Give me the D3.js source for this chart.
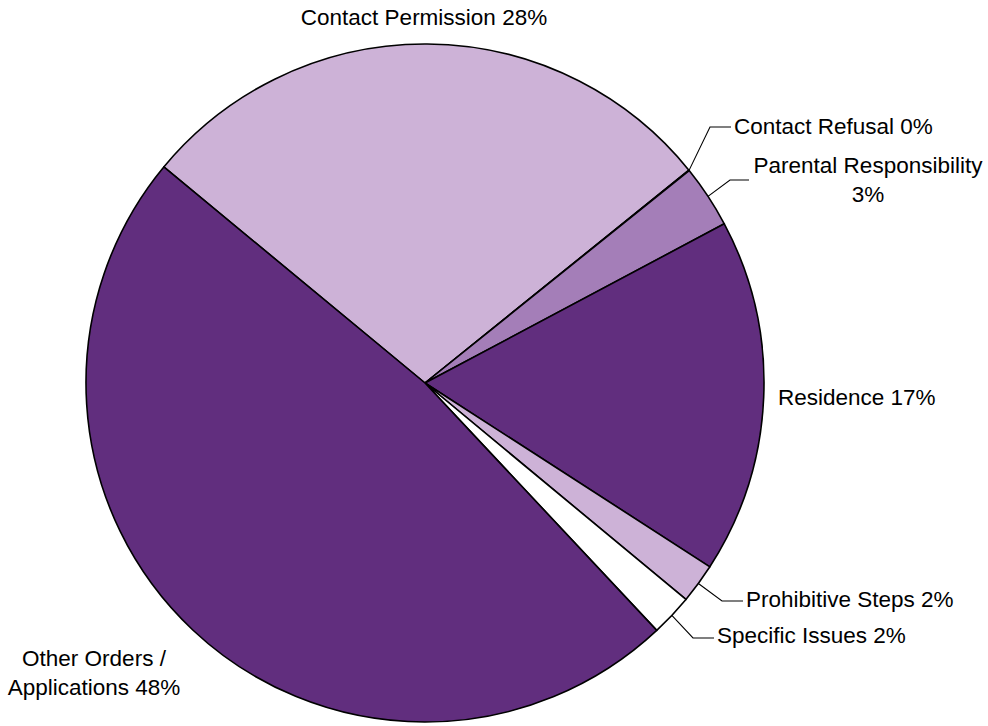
<!DOCTYPE html>
<html>
<head>
<meta charset="utf-8">
<script src="https://cdn.jsdelivr.net/npm/d3@7"></script>
<style>
  html, body { margin: 0; padding: 0; background: #fff; }
  svg { display: block; }
  text { font-family: "Liberation Sans", Arial, sans-serif; font-size: 22.5px; fill: #000; }
</style>
</head>
<body>
<svg id="chart" width="988" height="726"></svg>
<script>
// Share of applications by order type (percent)
const categories = [
  "Contact Permission",
  "Contact Refusal",
  "Parental Responsibility",
  "Residence",
  "Prohibitive Steps",
  "Specific Issues",
  "Other Orders / Applications"
];
const shares = [28.2, 0.02, 3.0, 16.9, 1.9, 2.0, 47.98];
const sliceColors = ["#CDB2D7", "#CDB2D7", "#A47EB8", "#612E7E", "#CDB2D7", "#FFFFFF", "#612E7E"];

// Label placement: lines of text, anchor point, alignment, optional elbow leader
const labelLayout = [
  { lines: ["Contact Permission {p}"], x: 424, y: 25, anchor: "middle" },
  { lines: ["Contact Refusal {p}"], x: 734, y: 134, anchor: "start", elbow: [710, 127], end: [731, 127] },
  { lines: ["Parental Responsibility", "{p}"], x: 868, y: 173, anchor: "middle", elbow: [730, 180], end: [749, 180] },
  { lines: ["Residence {p}"], x: 778, y: 405, anchor: "start" },
  { lines: ["Prohibitive Steps {p}"], x: 746, y: 607, anchor: "start", elbow: [722, 601], end: [743, 601] },
  { lines: ["Specific Issues {p}"], x: 717, y: 643, anchor: "start", elbow: [693, 638], end: [714, 638] },
  { lines: ["Other Orders /", "Applications {p}"], x: 94, y: 666, anchor: "middle" }
];

const cx = 425, cy = 383, radius = 339;
const lineHeight = 29;

const svg = d3.select("#chart");
const g = svg.append("g").attr("transform", `translate(${cx},${cy})`);

const total = d3.sum(shares);
const pie = d3.pie()
  .sort(null)
  .value(d => d)
  .startAngle(-50.4 * Math.PI / 180)
  .endAngle((360 - 50.4) * Math.PI / 180);

const arcs = pie(shares);
const arc = d3.arc().innerRadius(0).outerRadius(radius);

g.selectAll("path.slice")
  .data(arcs)
  .join("path")
  .attr("class", "slice")
  .attr("d", arc)
  .attr("fill", (d, i) => sliceColors[i])
  .attr("stroke", "#000")
  .attr("stroke-width", 1.6)
  .attr("stroke-linejoin", "round");

// Leader lines from the rim of small slices to their labels
arcs.forEach((d, i) => {
  const lay = labelLayout[i];
  if (!lay.elbow) return;
  const mid = (d.startAngle + d.endAngle) / 2;
  const sx = cx + radius * Math.sin(mid);
  const sy = cy - radius * Math.cos(mid);
  svg.append("polyline")
    .attr("points", [[sx, sy], lay.elbow, lay.end].map(p => p.join(",")).join(" "))
    .attr("fill", "none")
    .attr("stroke", "#000")
    .attr("stroke-width", 1.1);
});

// Category labels with rounded percentages
arcs.forEach((d, i) => {
  const lay = labelLayout[i];
  const pct = Math.round(d.data / total * 100) + "%";
  const t = svg.append("text")
    .attr("x", lay.x)
    .attr("y", lay.y)
    .attr("text-anchor", lay.anchor);
  lay.lines.forEach((ln, k) => {
    t.append("tspan")
      .attr("x", lay.x)
      .attr("y", lay.y + k * lineHeight)
      .text(ln.replace("{p}", pct));
  });
});
</script>
</body>
</html>
